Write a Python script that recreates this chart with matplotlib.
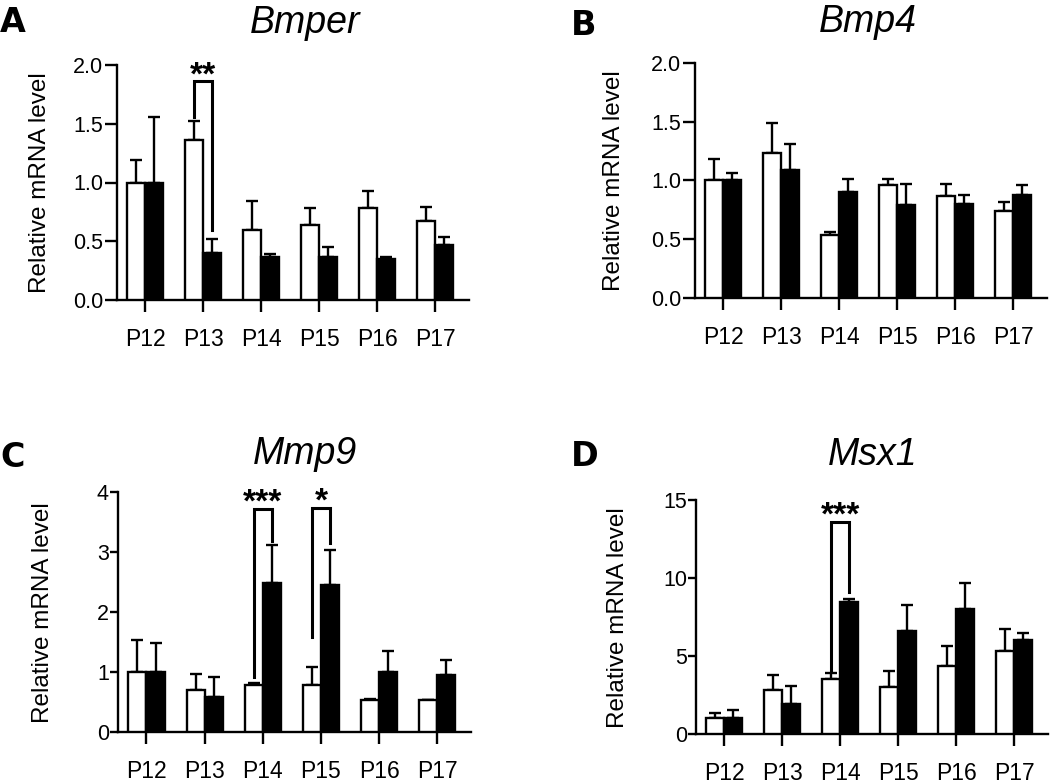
import matplotlib
matplotlib.use('Agg')
import matplotlib.pyplot as plt
import numpy as np

plt.rcParams['font.family'] = ['Liberation Sans', 'DejaVu Sans']

days = ['P12', 'P13', 'P14', 'P15', 'P16', 'P17']

bmper_white = [1.00, 1.36, 0.60, 0.64, 0.78, 0.675]
bmper_white_err = [0.19, 0.16, 0.24, 0.14, 0.15, 0.115]
bmper_black = [1.00, 0.40, 0.37, 0.37, 0.35, 0.47]
bmper_black_err = [0.56, 0.12, 0.02, 0.08, 0.02, 0.07]

bmp4_white = [1.00, 1.23, 0.54, 0.96, 0.87, 0.74]
bmp4_white_err = [0.18, 0.26, 0.02, 0.05, 0.10, 0.08]
bmp4_black = [1.00, 1.09, 0.90, 0.79, 0.80, 0.88]
bmp4_black_err = [0.06, 0.22, 0.11, 0.18, 0.08, 0.08]

mmp9_white = [1.00, 0.70, 0.78, 0.78, 0.54, 0.53]
mmp9_white_err = [0.54, 0.27, 0.04, 0.31, 0.01, 0.01]
mmp9_black = [1.00, 0.59, 2.48, 2.45, 1.00, 0.95]
mmp9_black_err = [0.49, 0.33, 0.63, 0.58, 0.35, 0.25]

msx1_white = [1.00, 2.81, 3.52, 3.00, 4.37, 5.33]
msx1_white_err = [0.34, 0.98, 0.36, 1.05, 1.30, 1.40]
msx1_black = [1.00, 1.94, 8.48, 6.58, 8.01, 6.01]
msx1_black_err = [0.53, 1.11, 0.15, 1.67, 1.66, 0.45]

# significance brackets: (group index, left leg start, bracket top, right leg end, label)
bmper_sig = [(1, 1.56, 1.86, 0.60, '**')]
bmp4_sig = []
mmp9_sig = [(2, 0.92, 3.72, 3.18, '***'), (3, 1.58, 3.74, 3.15, '*')]
msx1_sig = [(2, 4.03, 13.6, 9.1, '***')]

W, H = 1050, 784
fig = plt.figure(figsize=(W / 100, H / 100), dpi=100)

BW = 0.31
LW = 1.7


def px_axes(left, top, right, bottom):
    return fig.add_axes([left / W, 1 - bottom / H, (right - left) / W, (bottom - top) / H])


def panel(ax, white, werr, black, berr, sig, ylim, yticks, fmt, ytl, ytp):
    x = np.arange(len(days))
    ax.bar(x - BW / 2, white, BW, color='white', edgecolor='black', linewidth=LW, zorder=3)
    ax.bar(x + BW / 2, black, BW, color='black', edgecolor='black', linewidth=LW, zorder=3)
    ax.errorbar(x - BW / 2, white, yerr=[np.zeros(len(x)), werr], fmt='none', ecolor='black',
                elinewidth=LW, capsize=4.3, capthick=LW, zorder=2)
    ax.errorbar(x + BW / 2, black, yerr=[np.zeros(len(x)), berr], fmt='none', ecolor='black',
                elinewidth=LW, capsize=4.3, capthick=LW, zorder=2)
    for g, y0, yt, y1, lab in sig:
        xl, xr = g - BW / 2, g + BW / 2
        ax.plot([xl, xl, xr, xr], [y0, yt, yt, y1], color='black', lw=2.2,
                solid_joinstyle='miter', zorder=4, clip_on=False)
        ax.annotate(lab, xy=(g, yt), xytext=(0, -2), textcoords='offset points',
                    ha='center', va='baseline', fontsize=24, fontweight='bold', zorder=5)
    ax.set_xlim(-0.49, 5.58)
    ax.set_ylim(*ylim)
    ax.set_yticks(yticks)
    ax.set_yticklabels([fmt.format(v) for v in yticks], fontsize=15.5)
    ax.set_xticks(x)
    ax.set_xticklabels(days, fontsize=16.5)
    for s in ['top', 'right']:
        ax.spines[s].set_visible(False)
    for s in ['left', 'bottom']:
        ax.spines[s].set_linewidth(LW)
    ax.tick_params(axis='x', length=8.5, width=LW, pad=12)
    ax.tick_params(axis='y', length=ytl, width=LW, pad=ytp)


axA = px_axes(117, 65, 469, 300)
panel(axA, bmper_white, bmper_white_err, bmper_black, bmper_black_err, bmper_sig,
      (0, 2.0), [0, 0.5, 1.0, 1.5, 2.0], '{:.1f}', 9, 1)
axB = px_axes(695, 63, 1047, 298)
panel(axB, bmp4_white, bmp4_white_err, bmp4_black, bmp4_black_err, bmp4_sig,
      (0, 2.0), [0, 0.5, 1.0, 1.5, 2.0], '{:.1f}', 9, 1)
axC = px_axes(118, 492, 471, 732)
panel(axC, mmp9_white, mmp9_white_err, mmp9_black, mmp9_black_err, mmp9_sig,
      (0, 4), [0, 1, 2, 3, 4], '{:d}', 6, 0.5)
axD = px_axes(696, 500, 1048, 734)
panel(axD, msx1_white, msx1_white_err, msx1_black, msx1_black_err, msx1_sig,
      (0, 15), [0, 5, 10, 15], '{:d}', 6, 0.5)

# y labels
for xc, yc in [(40, 183), (614, 181), (43, 613), (618, 618)]:
    fig.text(xc / W, 1 - yc / H, 'Relative mRNA level', rotation=90, ha='center', va='center',
             fontsize=17.5)

# titles
for xc, yb, t in [(305, 33, 'Bmper'), (868, 32, 'Bmp4'), (305, 464, 'Mmp9'), (873, 465, 'Msx1')]:
    fig.text(xc / W, 1 - yb / H, t, ha='center', va='baseline', fontsize=27, style='italic')

# panel letters
for xl, yb, t in [(0, 32, 'A'), (571, 35, 'B'), (0, 467, 'C'), (571, 466, 'D')]:
    fig.text(xl / W, 1 - yb / H, t, ha='left', va='baseline', fontsize=24, fontweight='bold',
             family='DejaVu Sans')

fig.savefig('out.png', dpi=100)
